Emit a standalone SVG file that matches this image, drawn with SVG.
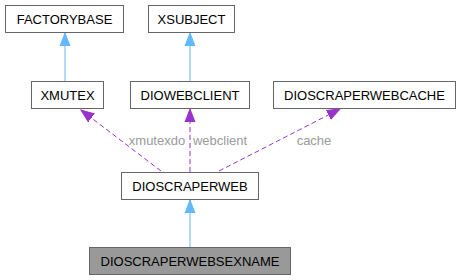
<svg xmlns="http://www.w3.org/2000/svg" width="461" height="280" viewBox="0 0 461 280">
<defs>
<style>
.node rect{fill:#fff;stroke:#666;stroke-width:1}
.node.cur rect{fill:#999}
.node text{font-family:"Liberation Sans",Arial,sans-serif;font-size:13px;fill:#000;text-anchor:middle}
.inh{stroke:#63b8ff;stroke-width:1;fill:none}
.use{stroke:#9a32cd;stroke-width:1;fill:none;stroke-dasharray:5,3}
.lbl{font-family:"Liberation Sans",Arial,sans-serif;font-size:13px;fill:#9a9a9a;text-anchor:middle}
</style>
<marker id="ah-inh" markerWidth="14" markerHeight="12" refX="13" refY="6" orient="auto" markerUnits="userSpaceOnUse" viewBox="0 0 14 12"><path d="M0,1 L13,6 L0,11 Z" fill="#63b8ff" stroke="#63b8ff"/></marker>
<marker id="ah-use" markerWidth="14" markerHeight="12" refX="13" refY="6" orient="auto" markerUnits="userSpaceOnUse" viewBox="0 0 14 12"><path d="M0,1 L13,6 L0,11 Z" fill="#9a32cd" stroke="#9a32cd"/></marker>
</defs>
<rect width="461" height="280" fill="#fff"/>
<g id="edges">
<path class="inh" d="M65,81 L65,33" marker-end="url(#ah-inh)"/>
<path class="inh" d="M190,81 L190,33" marker-end="url(#ah-inh)"/>
<path class="inh" d="M190,247 L190,200" marker-end="url(#ah-inh)"/>
<path class="use" d="M161,171 L81,110" marker-end="url(#ah-use)"/>
<path class="use" d="M190,172 L190,109" marker-end="url(#ah-use)"/>
<path class="use" d="M219,171 L340,109" marker-end="url(#ah-use)"/>
<text class="lbl" x="157" y="145">xmutexdo</text>
<text class="lbl" x="220" y="145">webclient</text>
<text class="lbl" x="314" y="145">cache</text>
</g>
<g id="FACTORYBASE" class="node"><rect x="5.5" y="5.5" width="118" height="27"/><text x="64.5" y="23.5">FACTORYBASE</text></g>
<g id="XSUBJECT" class="node"><rect x="148.5" y="5.5" width="86" height="27"/><text x="191.5" y="23.5">XSUBJECT</text></g>
<g id="XMUTEX" class="node"><rect x="31.5" y="81.5" width="72" height="27"/><text x="67.5" y="99.5">XMUTEX</text></g>
<g id="DIOWEBCLIENT" class="node"><rect x="130.5" y="81.5" width="119" height="27"/><text x="190" y="99.5">DIOWEBCLIENT</text></g>
<g id="DIOSCRAPERWEBCACHE" class="node"><rect x="273.5" y="81.5" width="182" height="27"/><text x="364.5" y="99.5">DIOSCRAPERWEBCACHE</text></g>
<g id="DIOSCRAPERWEB" class="node"><rect x="121.5" y="172.5" width="137" height="27"/><text x="190" y="190.5">DIOSCRAPERWEB</text></g>
<g id="DIOSCRAPERWEBSEXNAME" class="node cur"><rect x="89.5" y="247.5" width="201" height="27"/><text x="190" y="265.5">DIOSCRAPERWEBSEXNAME</text></g>
</svg>
